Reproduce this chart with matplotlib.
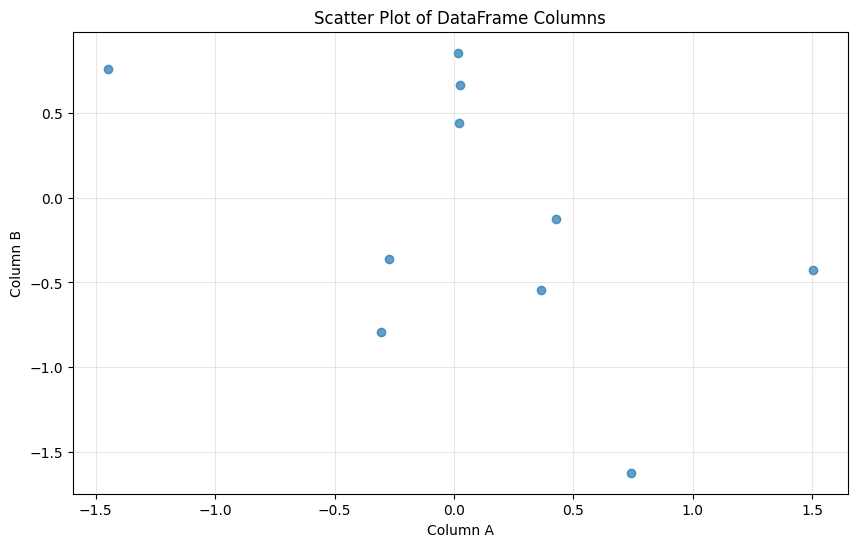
import matplotlib
matplotlib.use("Agg")
import matplotlib.pyplot as plt

col_a = [-1.448, 0.017, 0.025, 0.021, 0.427, -0.272, 0.364, 1.502, -0.305, 0.741]
col_b = [0.761, 0.855, 0.667, 0.442, -0.124, -0.360, -0.543, -0.425, -0.791, -1.622]

plt.figure(figsize=(10, 6))
plt.scatter(col_a, col_b, alpha=0.7)
plt.title('Scatter Plot of DataFrame Columns')
plt.xlabel('Column A')
plt.ylabel('Column B')
plt.grid(True, alpha=0.3)
plt.savefig('out.png', dpi=100, bbox_inches='tight')
